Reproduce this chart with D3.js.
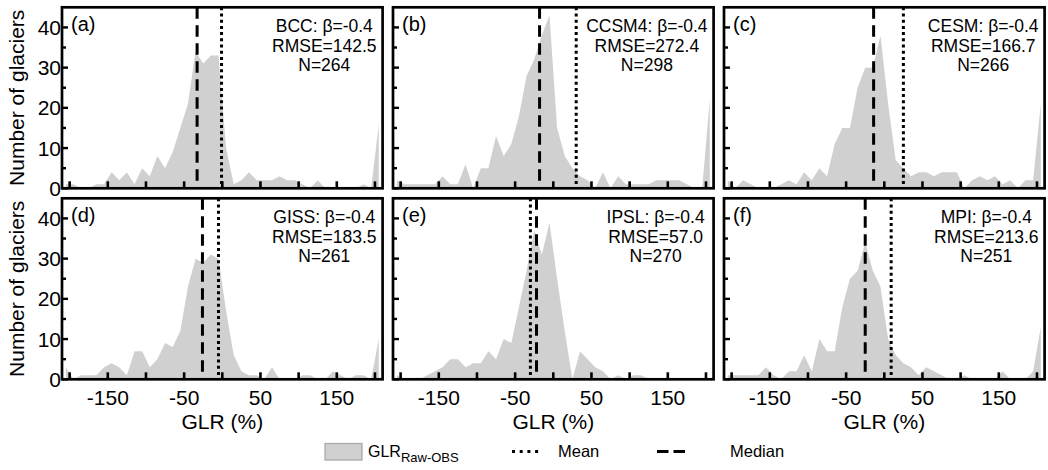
<!DOCTYPE html>
<html>
<head>
<meta charset="utf-8">
<script src="https://cdn.jsdelivr.net/npm/d3@7"></script>
<style>
  html, body { margin: 0; padding: 0; background: #fff; }
  svg { display: block; font-family: "Liberation Sans", Arial, Helvetica, sans-serif; }
</style>
</head>
<body>
<svg id="chart" width="1048" height="470"></svg>
<script>
// ---------------- data ----------------
const binCenters = [-205,-195,-185,-175,-165,-155,-145,-135,-125,-115,-105,-95,-85,-75,-65,-55,-45,-35,-25,-15,-5,
                    5,15,25,35,45,55,65,75,85,95,105,115,125,135,145,155,165,175,185,195,205];
const panelLabels = ["(a)", "(b)", "(c)", "(d)", "(e)", "(f)"];
const models = ["BCC", "CCSM4", "CESM", "GISS", "IPSL", "MPI"];
const betaValues = ["-0.4", "-0.4", "-0.4", "-0.4", "-0.4", "-0.4"];
const rmseValues = ["142.5", "272.4", "166.7", "183.5", "57.0", "213.6"];
const nGlaciers = [264, 298, 266, 261, 270, 251];
const meanGLR = [-1, 30, 25, -5, -30, 9];
const medianGLR = [-33, -18, -14, -26, -22, -25];

const countsBCC   = [1,1,0,0,1,1,4,2,4,1,5,3,8,5,9,15,21,34,31,33,33,10,1,2,4,2,2,2,3,2,2,1,0,2,0,0,0,0,0,1,0,16];
const countsCCSM4 = [2,1,1,1,1,1,3,1,1,6,0,5,5,13,8,11,18,28,32,38,43,15,8,5,3,2,0,4,0,3,1,1,1,1,2,2,2,2,1,0,0,22];
const countsCESM  = [2,0,2,1,0,0,0,1,2,1,4,2,5,3,11,15,15,25,30,30,38,21,7,5,3,4,4,3,4,4,4,0,2,3,2,3,1,2,0,2,2,21];
const countsGISS  = [3,0,1,1,1,3,4,3,1,7,7,3,5,9,8,12,23,30,29,31,30,17,6,2,1,1,0,3,0,0,0,1,1,0,0,2,1,0,1,1,0,10];
const countsIPSL  = [1,0,0,0,1,2,3,5,5,3,4,4,7,5,10,9,18,27,37,31,39,25,12,0,7,5,3,2,0,1,0,1,1,0,0,0,0,0,0,0,0,0];
const countsMPI   = [1,1,1,1,1,3,1,0,2,2,6,2,10,7,7,18,25,27,34,27,23,10,6,4,3,1,3,2,1,0,0,1,0,0,0,0,2,0,0,0,2,13];
const seriesCounts = [countsBCC, countsCCSM4, countsCESM, countsGISS, countsIPSL, countsMPI];

const xDomain = [-210, 210];
const yDomain = [0, 45];
const xTickValues = [-200, -150, -100, -50, 0, 50, 100, 150, 200];
const xTickLabels = [-150, -50, 50, 150];
const yTickValues = [0, 5, 10, 15, 20, 25, 30, 35, 40];
const yTickLabels = [0, 10, 20, 30, 40];
const yAxisTitle = "Number of glaciers";
const xAxisTitle = "GLR (%)";
const legendLabels = ["GLR", "Raw-OBS", "Mean", "Median"];

// ---------------- layout ----------------
const svg = d3.select("#chart");
const colLeft = [62, 393, 724];
const rowTop = [7.3, 198.3];
const pw = 320.6, ph = 181;
const fillGray = "#d0d0d0";
const font = "\"Liberation Sans\", Arial, sans-serif";

seriesCounts.forEach((counts, i) => {
  const col = i % 3, row = Math.floor(i / 3);
  const L = colLeft[col], T = rowTop[row], R = L + pw, B = T + ph;
  const x = d3.scaleLinear().domain(xDomain).range([L, R]);
  const y = d3.scaleLinear().domain(yDomain).range([B, T]);
  const g = svg.append("g");

  const clipId = "clip" + i;
  g.append("clipPath").attr("id", clipId).append("rect")
    .attr("x", L).attr("y", T).attr("width", pw).attr("height", ph);

  const data = binCenters.map((c, k) => ({ c, v: counts[k] }));
  const area = d3.area().x(d => x(d.c)).y0(y(0)).y1(d => y(d.v));
  g.append("path").datum(data).attr("d", area).attr("fill", fillGray)
    .attr("clip-path", `url(#${clipId})`);

  // median (dashed) and mean (dotted)
  g.append("line").attr("x1", x(medianGLR[i])).attr("x2", x(medianGLR[i]))
    .attr("y1", y(yDomain[1])).attr("y2", y(0))
    .attr("stroke", "#000").attr("stroke-width", 3).attr("stroke-dasharray", "11.5,6.5");
  g.append("line").attr("x1", x(meanGLR[i])).attr("x2", x(meanGLR[i]))
    .attr("y1", y(yDomain[1])).attr("y2", y(0))
    .attr("stroke", "#000").attr("stroke-width", 3).attr("stroke-dasharray", "3,3.2");

  // ticks (inward)
  g.selectAll(".xt").data(xTickValues).enter().append("line")
    .attr("x1", d => x(d)).attr("x2", d => x(d))
    .attr("y1", B).attr("y2", B - 7)
    .attr("stroke", "#000").attr("stroke-width", 2.6);
  g.selectAll(".yt").data(yTickValues).enter().append("line")
    .attr("x1", L).attr("x2", d => L + (d % 10 === 0 ? 6 : 4))
    .attr("y1", d => y(d)).attr("y2", d => y(d))
    .attr("stroke", "#000").attr("stroke-width", 2.4);

  // frame
  g.append("rect").attr("x", L).attr("y", T).attr("width", pw).attr("height", ph)
    .attr("fill", "none").attr("stroke", "#000").attr("stroke-width", 2.7);

  // tick labels
  if (col === 0) {
    g.selectAll(".yl").data(yTickLabels).enter().append("text")
      .attr("x", L - 1).attr("y", d => y(d)).attr("dy", "0.36em")
      .attr("text-anchor", "end").attr("font-size", 21).attr("font-family", font)
      .text(d => d);
    svg.append("text")
      .attr("transform", `translate(24,${(T + B) / 2}) rotate(-90)`)
      .attr("text-anchor", "middle").attr("font-size", 21).attr("font-family", font)
      .text(yAxisTitle);
  }
  if (row === 1) {
    g.selectAll(".xl").data(xTickLabels).enter().append("text")
      .attr("x", d => x(d)).attr("y", B + 26)
      .attr("text-anchor", "middle").attr("font-size", 21).attr("font-family", font)
      .text(d => d);
    g.append("text").attr("x", x(0)).attr("y", B + 50)
      .attr("text-anchor", "middle").attr("font-size", 21).attr("font-family", font)
      .text(xAxisTitle);
  }

  // panel label
  g.append("text").attr("x", L + 9).attr("y", T + 24)
    .attr("font-size", 20).attr("font-family", font).text(panelLabels[i]);

  // stats block
  const lines = [`${models[i]}: β=${betaValues[i]}`, `RMSE=${rmseValues[i]}`, `N=${nGlaciers[i]}`];
  const offs = [24.8, 44.3, 63.8];
  const tx = lines.map((t, j) => g.append("text").attr("y", T + offs[j])
    .attr("text-anchor", "middle").attr("font-size", 17.5).attr("font-family", font).text(t));
  const maxHalf = d3.max(tx, t => t.node().getComputedTextLength()) / 2;
  const cx = Math.min(R - 58, R - 6 - maxHalf);
  tx.forEach(t => t.attr("x", cx));
});

// ---------------- legend ----------------
const lg = svg.append("g");
const ly = 451.5;
lg.append("rect").attr("x", 325).attr("y", 443.5).attr("width", 37).attr("height", 16.5)
  .attr("fill", fillGray).attr("stroke", "#a6a6a6").attr("stroke-width", 1.2);
const t1 = lg.append("text").attr("x", 368).attr("y", 457).attr("font-size", 16).attr("font-family", font);
t1.append("tspan").text(legendLabels[0]);
t1.append("tspan").attr("font-size", 13).attr("dy", 4.5).text(legendLabels[1]);

lg.append("line").attr("x1", 512).attr("x2", 539).attr("y1", ly).attr("y2", ly)
  .attr("stroke", "#000").attr("stroke-width", 2.8).attr("stroke-dasharray", "3,4.7");
lg.append("text").attr("x", 558).attr("y", 457).attr("font-size", 16.5).attr("font-family", font).text(legendLabels[2]);

lg.append("line").attr("x1", 657).attr("x2", 685).attr("y1", ly).attr("y2", ly)
  .attr("stroke", "#000").attr("stroke-width", 2.8).attr("stroke-dasharray", "11.5,5");
lg.append("text").attr("x", 730).attr("y", 457).attr("font-size", 16.5).attr("font-family", font).text(legendLabels[3]);
</script>
</body>
</html>
